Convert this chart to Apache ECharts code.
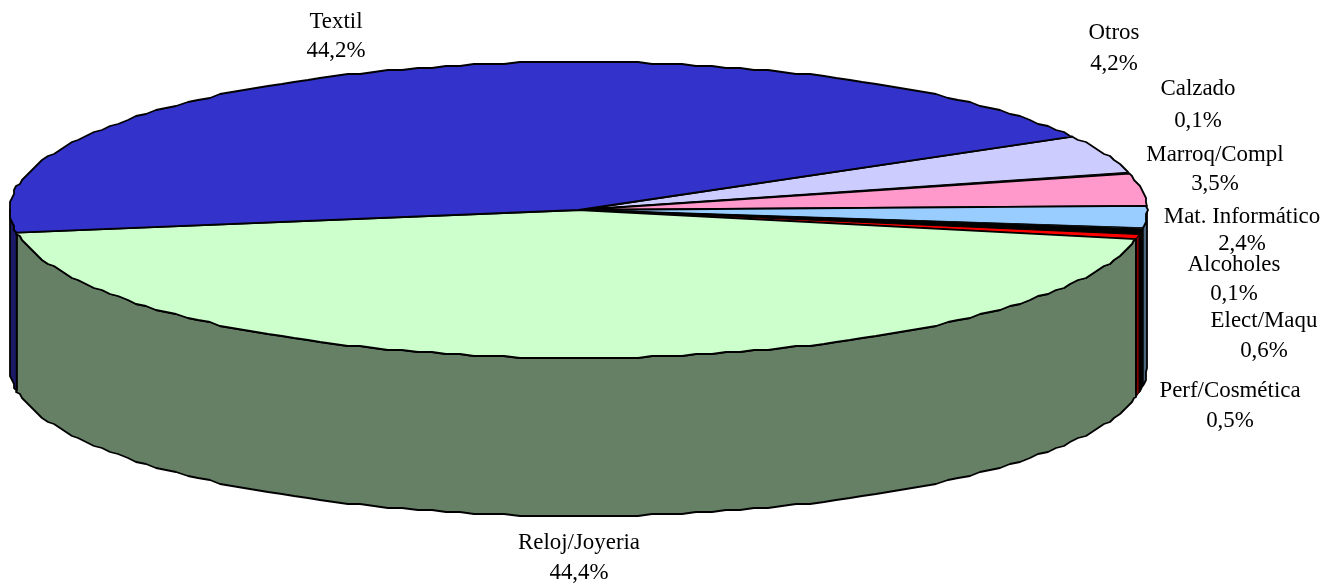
<!DOCTYPE html>
<html>
<head>
<meta charset="utf-8">
<style>html,body{margin:0;padding:0;background:#fff}#c{width:1324px;height:584px}</style>
<script src="https://cdn.jsdelivr.net/npm/echarts@6/dist/echarts.min.js"></script>
</head>
<body>
<div id="c"></div>
<script>
const categories = ['Otros','Calzado','Marroq/Compl','Mat. Informático','Alcoholes','Elect/Maqu','Perf/Cosmética','Reloj/Joyeria','Textil'];
const values = [4.2,0.1,3.5,2.4,0.1,0.6,0.5,44.4,44.2];
const topColors = ['#CCCCFF','#FFFFCC','#FF99CC','#99CCFF','#CCFFFF','#000000','#FF0000','#CCFFCC','#3333CC'];
const sideColors = ['#666680','#808066','#804D66','#4D6680','#668080','#000000','#800000','#668066','#1A1A66'];
const labelAnchors = [[1114,33,64],[1198,89,121],[1215,155,184],[1242,217,244],[1234,265,294],[1264,321,351],[1230,391,421],[579,543,573],[336,22,51]];

const CX = 578.5, CY = 210, RX = 568.5, RY = 148, DEPTH = 158, START = 29.7, GRID = 2, STEP = 1.5;
const total = values.reduce((a,b)=>a+b,0);
const starts = [];
values.reduce((acc,v,i)=>{starts[i]=acc;return acc-v/total*360;},START);

function snap(x,o){return Math.round((x-o)/GRID)*GRID+o;}
function raw(t,dy){const r=t*Math.PI/180;return [CX+RX*Math.cos(r),CY-RY*Math.sin(r)+(dy||0)];}
function pt(t,dy){const r=t*Math.PI/180;return [snap(CX+RX*Math.cos(r),CX-RX),snap(CY-RY*Math.sin(r),CY-RY)+(dy||0)];}
function arc(a,b,dy){
  const out=[raw(a,dy)];
  for(let t=Math.floor(a/STEP)*STEP;t>b;t-=STEP){ if(t<a) out.push(pt(t,dy)); }
  out.push(raw(b,dy));
  return out;
}
function renderItem(params,api){
  const i=params.dataIndex, v=api.value(1);
  const a=starts[i], b=a-v/total*360;
  const lw=v<1?1:1.8;
  const children=[];
  const ranges=[[Math.min(a,0),Math.max(b,-180)],[Math.min(a,-360),Math.max(b,-540)]];
  ranges.forEach(function(r){
    if(r[0]>r[1]){
      children.push({type:'polygon',z2:1,shape:{points:arc(r[0],r[1],0).concat(arc(r[0],r[1],DEPTH).reverse())},
        style:{fill:sideColors[i],stroke:'#000',lineWidth:lw,lineJoin:'round'}});
    }
  });
  children.push({type:'polygon',z2:2,shape:{points:[[CX,CY]].concat(arc(a,b,0))},
    style:{fill:topColors[i],stroke:'#000',lineWidth:lw,lineJoin:'round'}});
  const p=labelAnchors[i];
  const font='22.9px "Liberation Serif"';
  children.push({type:'text',z2:3,x:p[0],y:p[1],style:{text:categories[i],font:font,fill:'#000',align:'center',verticalAlign:'middle'}});
  children.push({type:'text',z2:3,x:p[0],y:p[2],style:{text:v.toFixed(1).replace('.',',')+'%',font:font,fill:'#000',align:'center',verticalAlign:'middle'}});
  return {type:'group',children:children};
}
const chart=echarts.init(document.getElementById('c'),null,{renderer:'canvas'});
chart.setOption({
  animation:false,
  backgroundColor:'#ffffff',
  series:[{type:'custom',coordinateSystem:'none',renderItem:renderItem,
    data:values.map(function(v,i){return [i,v];}),silent:true}]
});
</script>
</body>
</html>
